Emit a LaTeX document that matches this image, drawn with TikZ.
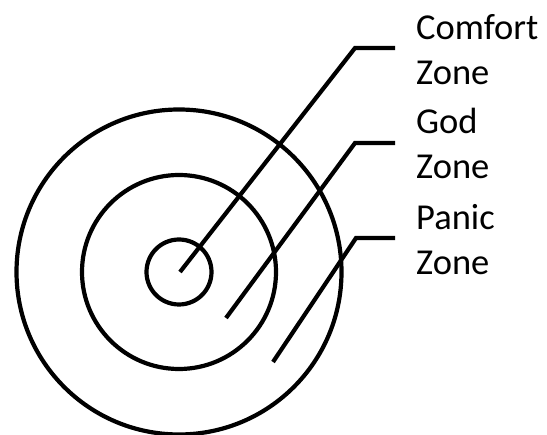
\documentclass[tikz,border=0pt]{standalone}
\usepackage{fontspec}
\setmainfont{Carlito}

\begin{document}
\begin{tikzpicture}[x=1pt,y=-1pt,
    ring/.style={draw,line width=4.2pt},
    pointer/.style={draw,line width=4.2pt},
    zonelabel/.style={anchor=west,align=left,inner xsep=21pt,inner ysep=0pt,
      font=\fontsize{36.5}{45}\selectfont}]
  \useasboundingbox (0,0) rectangle (547,435);

  \path[ring] (179,272) circle[radius=162.5pt];
  \path[ring] (179,272) circle[radius=97pt];
  \path[ring] (179,272) circle[radius=32.5pt];

  \node[zonelabel] (comfort) at (395,50) {Comfort\\Zone};
  \node[zonelabel] (god) at (395,143) {God\\Zone};
  \node[zonelabel] (panic) at (395,240) {Panic\\Zone};

  % pointer starts and bends
  \coordinate (s1) at (180,272);
  \coordinate (b1) at (355,48);
  \coordinate (s2) at (226,318);
  \coordinate (b2) at (355,143);
  \coordinate (s3) at (273,362);
  \coordinate (b3) at (356,238);

  \path[pointer] (s1) -- (b1) -- (b1 -| comfort.west);
  \path[pointer] (s2) -- (b2) -- (b2 -| god.west);
  \path[pointer] (s3) -- (b3) -- (b3 -| panic.west);
\end{tikzpicture}
\end{document}
